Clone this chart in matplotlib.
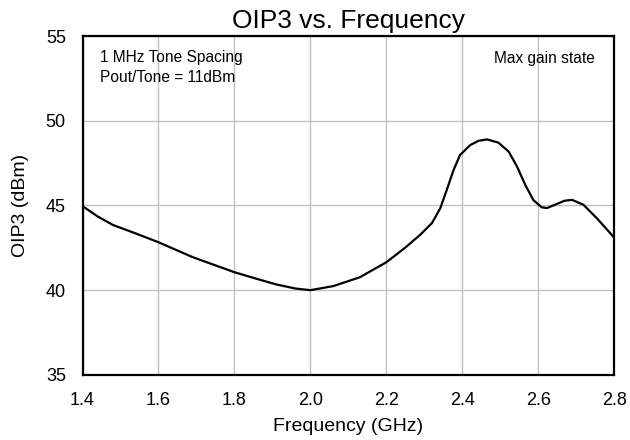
import matplotlib
matplotlib.use("Agg")
import matplotlib.pyplot as plt

plt.rcParams['font.family'] = ['Liberation Sans', 'DejaVu Sans']

freq_ghz = [1.40, 1.44, 1.48, 1.54, 1.60, 1.69, 1.80, 1.86, 1.91, 1.96, 2.00, 2.06, 2.13,
            2.20, 2.249, 2.289, 2.320, 2.342, 2.359, 2.377, 2.394, 2.421, 2.443, 2.465,
            2.495, 2.522, 2.544, 2.566, 2.587, 2.609, 2.623, 2.649, 2.669, 2.689, 2.719,
            2.754, 2.800]
oip3_dbm = [44.96, 44.35, 43.85, 43.35, 42.83, 41.95, 41.06, 40.66, 40.34, 40.10, 40.00,
            40.24, 40.76, 41.65, 42.50, 43.27, 43.96, 44.84, 45.92, 47.10, 47.98, 48.57,
            48.82, 48.90, 48.71, 48.18, 47.30, 46.20, 45.32, 44.89, 44.85, 45.09, 45.28,
            45.33, 45.04, 44.25, 43.10]

x_ticks = [1.4, 1.6, 1.8, 2.0, 2.2, 2.4, 2.6, 2.8]
y_ticks = [35, 40, 45, 50, 55]

fig = plt.figure(figsize=(6.3, 4.4), dpi=100)
ax = fig.add_axes([0.131, 0.148, 0.844, 0.770])
ax.plot(freq_ghz, oip3_dbm, color='black', linewidth=1.6, zorder=3,
        solid_joinstyle='round')
ax.set_xlim(1.4, 2.8)
ax.set_ylim(35, 55)
ax.set_xticks(x_ticks)
ax.set_xticklabels([f"{v:.1f}" for v in x_ticks])
ax.set_yticks(y_ticks)
ax.grid(True, color='#c0c0c0', linewidth=1.0)
ax.tick_params(axis='x', length=0, labelsize=13, pad=12)
ax.tick_params(axis='y', length=0, labelsize=13, pad=12)
for s in ax.spines.values():
    s.set_linewidth(1.6)
    s.set_zorder(4)
ax.set_xlabel("Frequency (GHz)", fontsize=14, labelpad=7)
ax.set_ylabel("OIP3 (dBm)", fontsize=14, labelpad=12)
ax.set_title("OIP3 vs. Frequency", fontsize=19, pad=6)
ax.text(0.032, 0.923, "1 MHz Tone Spacing", transform=ax.transAxes, fontsize=11.2, va='baseline', ha='left')
ax.text(0.032, 0.864, "Pout/Tone = 11dBm", transform=ax.transAxes, fontsize=11.2, va='baseline', ha='left')
ax.text(0.964, 0.920, "Max gain state", transform=ax.transAxes, fontsize=11.2, va='baseline', ha='right')
fig.savefig("out.png", dpi=100)
